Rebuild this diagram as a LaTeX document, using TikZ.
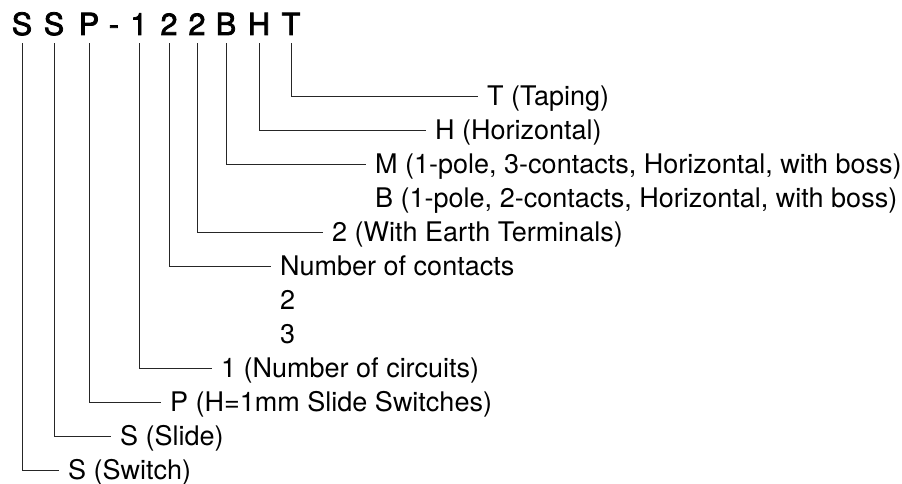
\documentclass[tikz,border=0pt]{standalone}
\usepackage{fontspec}
\setmainfont{TeX Gyre Heros}
\newfontfamily\codefont[FakeBold=2.5]{TeX Gyre Heros}
\begin{document}
\begin{tikzpicture}[x=1pt,y=-1pt,
  code/.style={font=\fontsize{30.5}{30.5}\codefont, inner xsep=0pt, inner ysep=8pt, text depth=0pt, anchor=base},
  desc/.style={font=\fontsize{27}{27}\selectfont, anchor=west, inner xsep=9pt, inner ysep=0pt, text height=19pt, text depth=0pt},
  lead/.style={line width=0.8pt, draw=black!85}]
\useasboundingbox (0,0) rectangle (902,484);
\node[code] (cS1) at (22,35){S};
\node[code] (cS2) at (54,35){S};
\node[code] (cP) at (89,35){P};
\node[code] (cHy) at (114,35){-};
\node[code] (c1) at (139,35){1};
\node[code] (c2a) at (169,35){2};
\node[code] (c2b) at (197,35){2};
\node[code] (cB) at (226,35){B};
\node[code] (cH) at (259,35){H};
\node[code] (cT) at (291,35){T};

\node[desc] (tT) at (478,96){T (Taping)};
\node[desc] (tH) at (426,130){H (Horizontal)};
\node[desc] (tM) at (366,164){M (1-pole, 3-contacts, Horizontal, with boss)};
\node[desc] (tB) at (366,198){B (1-pole, 2-contacts, Horizontal, with boss)};
\node[desc] (tE) at (323,232){2 (With Earth Terminals)};
\node[desc] (tN) at (271,266){Number of contacts};
\node[desc] (tN2) at (271,300){2};
\node[desc] (tN3) at (271,334){3};
\node[desc] (t1) at (212,368){1 (Number of circuits)};
\node[desc] (tP) at (161,402){P (H=1mm Slide Switches)};
\node[desc] (tS2) at (111,436){S (Slide)};
\node[desc] (tS1) at (59,470){S (Switch)};

\draw[lead](cT.south) |- (tT.west);
\draw[lead](cH.south) |- (tH.west);
\draw[lead](cB.south) |- (tM.west);
\draw[lead](c2b.south) |- (tE.west);
\draw[lead](c2a.south) |- (tN.west);
\draw[lead](c1.south) |- (t1.west);
\draw[lead](cP.south) |- (tP.west);
\draw[lead](cS2.south) |- (tS2.west);
\draw[lead](cS1.south) |- (tS1.west);

\end{tikzpicture}
\end{document}
